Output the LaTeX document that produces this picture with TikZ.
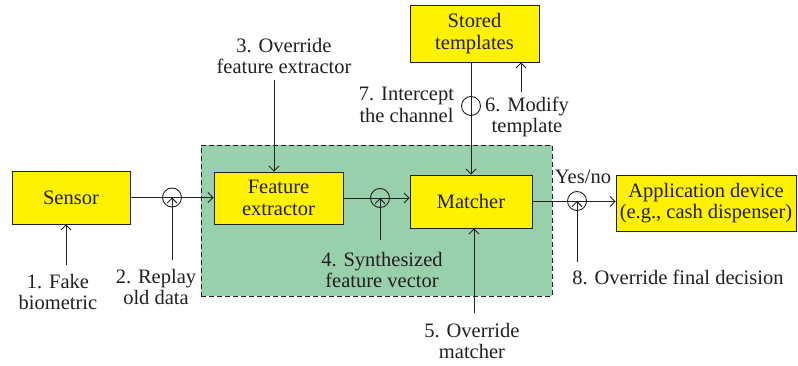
\documentclass[tikz,border=0pt]{standalone}
\usepackage{fontspec}
\setmainfont{Liberation Serif}
\usetikzlibrary{arrows.meta}
\definecolor{boxyellow}{RGB}{255,242,0}
\definecolor{zonegreen}{RGB}{153,208,172}
\definecolor{ink}{RGB}{35,31,32}
\begin{document}
\begin{tikzpicture}[x=1pt,y=-1pt,
  font=\fontsize{20.5}{21.5}\selectfont,
  block/.style={draw=ink, fill=boxyellow, line width=0.9pt, inner sep=0pt, align=center, text=ink},
  lbl/.style={align=center, inner sep=0pt, text=ink},
  tap/.style={circle, draw=ink, line width=0.9pt, minimum size=19pt, inner sep=0pt},
  arr/.style={draw=ink, line width=0.9pt, -{Straight Barb[length=5pt,width=10pt]}},
  zone/.style={draw=ink, fill=zonegreen, line width=0.9pt, dash pattern=on 5pt off 3pt}]
\useasboundingbox (0,0) rectangle (798,366);
% protected zone
\node[zone, minimum width=351pt, minimum height=151pt, inner sep=0pt] (zone) at (376.5,220.5) {};
% blocks
\node[block, minimum width=118pt, minimum height=53pt] (sensor) at (71,197.5) {Sensor};
\node[block, minimum width=129pt, minimum height=52pt] (fe) at (278.5,198) {Feature\\extractor};
\node[block, minimum width=122pt, minimum height=53pt] (matcher) at (471,201.5) {Matcher};
\node[block, minimum width=129pt, minimum height=57pt] (stored) at (474.5,33.5) {Stored\\templates};
\node[block, minimum width=180pt, minimum height=56pt] (app) at (706,203) {Application device\\(e.g., cash dispenser)};
% tap circles
\node[tap] (c2) at (172,197.5) {};
\node[tap] (c4) at (380,198) {};
\node[tap] (c7) at (471,106) {};
\node[tap] (c8) at (577,201) {};
% main flow
\draw[arr] (sensor.east) -- (sensor.east -| fe.west);
\draw[arr] (fe.east) -- (fe.east -| matcher.west);
\draw[arr] (matcher.east) -- (matcher.east -| app.west);
\draw[arr] (stored.south -| c7) -- (matcher.north -| c7);
% attack points
\coordinate (a1) at (66,265);
\coordinate (a2) at (172,260);
\coordinate (a3) at (274,80);
\coordinate (a4) at (380,240);
\coordinate (a5) at (474,313);
\coordinate (a6) at (521,92);
\coordinate (a8) at (577,262);
\draw[arr] (a1) -- (a1 |- sensor.south);
\draw[arr] (a2) -- (c2.center);
\draw[arr] (a3) -- (a3 |- fe.north);
\draw[arr] (a4) -- (c4.center);
\draw[arr] (a5) -- (a5 |- matcher.south);
\draw[arr] (a6) -- (a6 |- stored.south);
\draw[arr] (a8) -- (c8.center);
% labels
\node[lbl] (l1) at (58,292) {1. Fake\\biometric};
\node[lbl] (l2) at (156,287) {2. Replay\\old data};
\node[lbl] (l3) at (284,56) {3. Override\\feature extractor};
\node[lbl] (l4) at (382,270) {4. Synthesized\\feature vector};
\node[lbl] (l5) at (472,341) {5. Override\\matcher};
\node[lbl] (l6) at (527,117) {6. Modify\\template};
\node[lbl] (l7) at (406.5,105) {7. Intercept\\the channel};
\node[lbl] (l8) at (678,277) {8. Override final decision};
\node[lbl] (yn) at (583,177) {Yes/no};
\end{tikzpicture}
\end{document}
